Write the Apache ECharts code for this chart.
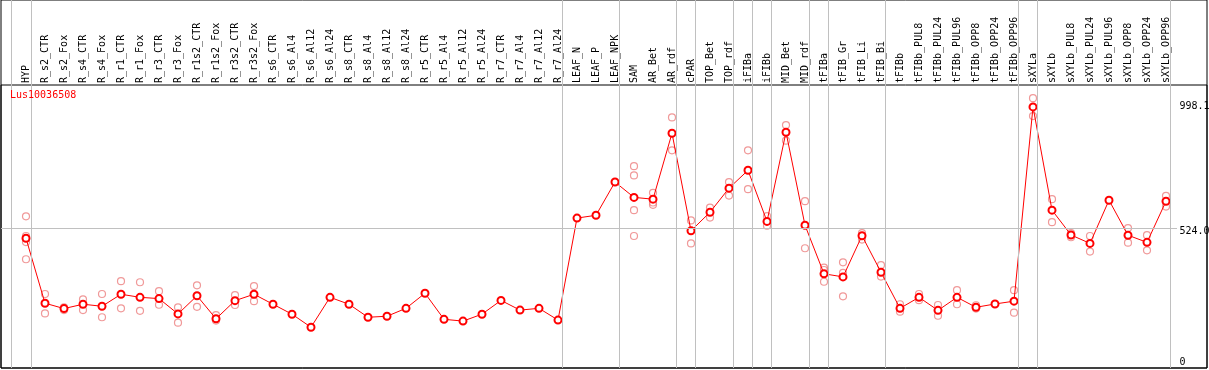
<!DOCTYPE html>
<html>
<head>
<meta charset="utf-8">
<script src="https://cdn.jsdelivr.net/npm/echarts@6/dist/echarts.min.js"></script>
<style>
html,body{margin:0;padding:0;background:#fff;}
#chart{width:1209px;height:370px;}
</style>
</head>
<body>
<div id="chart"></div>
<script>
const geneName = 'Lus10036508';
const categories = ['HYP','R_s2_CTR','R_s2_Fox','R_s4_CTR','R_s4_Fox','R_r1_CTR','R_r1_Fox','R_r3_CTR','R_r3_Fox','R_r1s2_CTR','R_r1s2_Fox','R_r3s2_CTR','R_r3s2_Fox','R_s6_CTR','R_s6_Al4','R_s6_Al12','R_s6_Al24','R_s8_CTR','R_s8_Al4','R_s8_Al12','R_s8_Al24','R_r5_CTR','R_r5_Al4','R_r5_Al12','R_r5_Al24','R_r7_CTR','R_r7_Al4','R_r7_Al12','R_r7_Al24','LEAF_N','LEAF_P','LEAF_NPK','SAM','AR_Bet','AR_rdf','cPAR','TOP_Bet','TOP_rdf','iFIBa','iFIBb','MID_Bet','MID_rdf','tFIBa','tFIB_Gr','tFIB_Li','tFIB_Bi','tFIBb','tFIBb_PUL8','tFIBb_PUL24','tFIBb_PUL96','tFIBb_OPP8','tFIBb_OPP24','tFIBb_OPP96','sXYLa','sXYLb','sXYLb_PUL8','sXYLb_PUL24','sXYLb_PUL96','sXYLb_OPP8','sXYLb_OPP24','sXYLb_OPP96'];
const meanValues = [484,230,209,226,218,265,253,248,188,259,169,240,265,226,187,136,253,226,175,179,210,269,167,160,187,241,203,210,164,563,574,704,644,637,895,513,586,680,750,550,899,535,345,333,494,351,210,253,202,253,214,227,238,998.1,594,497,464,633,496,468,629];
const replicates = [
  [570,493,469,402],[266,190],[214,203],[245,203],[266,175],[316,210],[312,200],[277,224],[214,154],[300,216],[183,162],[262,223],[297,238],
  [],[],[],[],[],[],[],[],[],[],[],[],[],[],[],[],[],[],[],
  [766,730,594,493],[662,624,615],[957,828],[554,464],[604,565],[704,651],[828,676],[571,533],[927,866],[629,445],
  [369,360,314],[390,349,257],[504,479],[379,334],[226,197],[266,242],[223,181],[281,226],[222,209],[],[281,193],
  [1032,962],[637,547],[504,488],[493,432],[],[524,467],[496,437],[650,608]
];
const groupEnds = [0,28,31,34,35,37,38,39,41,42,45,52,53,60];
const yTicks = [0, 524.0, 998.1];
const refLine = 524.0;

// layout constants
const Y_MIN = -23.5, Y_MAX = 1083.7;
const X_MIN = -1.3158, X_MAX = 62.158; // category-index space across the full frame
const FONT = 'DejaVu Sans Mono';

const repData = [];
replicates.forEach((arr, i) => arr.forEach(v => repData.push([i, v])));

const sepLines = [{xAxis: -0.8}].concat(groupEnds.map(i => ({xAxis: i + 0.25})));

const chart = echarts.init(document.getElementById('chart'), null, {renderer: 'canvas'});
chart.setOption({
  animation: false,
  backgroundColor: '#fff',
  title: {
    text: geneName, left: 10, top: 90, padding: 0,
    textStyle: {color: '#ff0000', fontSize: 10, fontWeight: 'normal', fontFamily: FONT}
  },
  grid: [
    {left: 16.5, right: 33.5, top: 85, bottom: 2, show: false, containLabel: false, outerBoundsMode: 'none'},
    {left: 1, right: 2, top: 0, bottom: 2, show: true, borderColor: '#000', borderWidth: 1, backgroundColor: 'transparent', outerBoundsMode: 'none'},
    {left: 1, right: 2, top: 85, bottom: 2, show: true, borderColor: '#000', borderWidth: 1, backgroundColor: 'transparent', outerBoundsMode: 'none'}
  ],
  xAxis: [
    {gridIndex: 0, type: 'category', position: 'top', data: categories, boundaryGap: true,
     axisLine: {show: false}, axisTick: {show: false}, splitLine: {show: false},
     axisLabel: {interval: 0, rotate: 90, margin: 2, fontSize: 10, fontFamily: FONT, color: '#000', hideOverlap: false}},
    {gridIndex: 1, type: 'value', min: X_MIN, max: X_MAX, show: false},
    {gridIndex: 2, type: 'value', min: X_MIN, max: X_MAX, show: false}
  ],
  yAxis: [
    {gridIndex: 0, type: 'value', position: 'right', min: Y_MIN, max: Y_MAX,
     axisLine: {show: false}, axisTick: {show: false}, splitLine: {show: false},
     axisLabel: {customValues: yTicks, margin: 4, fontSize: 10, fontFamily: FONT, color: '#000',
       align: 'left', verticalAlign: 'middle',
       formatter: v => v === 0 ? '0' : (v === refLine ? '{lo|' + v.toFixed(1) + '}' : v.toFixed(1)),
       rich: {lo: {padding: [7, 0, 0, 0], fontSize: 10, fontFamily: FONT, color: '#000'}}}},
    {gridIndex: 1, type: 'value', min: 0, max: 1, show: false},
    {gridIndex: 2, type: 'value', min: Y_MIN, max: Y_MAX, show: false}
  ],
  series: [
    {type: 'line', xAxisIndex: 1, yAxisIndex: 1, data: [], silent: true, z: 0,
     markLine: {silent: true, symbol: ['none','none'], label: {show: false},
       lineStyle: {color: '#c0c0c0', width: 1, type: 'solid'}, emphasis: {disabled: true},
       data: sepLines}},
    {type: 'line', xAxisIndex: 2, yAxisIndex: 2, data: [], silent: true, z: 0,
     markLine: {silent: true, symbol: ['none','none'], label: {show: false},
       lineStyle: {color: '#c0c0c0', width: 1, type: 'solid'}, emphasis: {disabled: true},
       data: [[{coord: [X_MIN, refLine]}, {coord: [60.58, refLine]}]]}},
    {type: 'scatter', xAxisIndex: 0, yAxisIndex: 0, data: repData, z: 3,
     symbol: 'circle', symbolSize: 7,
     itemStyle: {color: 'rgba(255,255,255,0)', borderColor: '#ec8080', borderWidth: 1.2}},
    {type: 'line', xAxisIndex: 0, yAxisIndex: 0, data: meanValues, z: 4,
     symbol: 'emptyCircle', symbolSize: 7, showAllSymbol: true,
     lineStyle: {color: '#ff0000', width: 1},
     itemStyle: {color: '#ff0000', borderColor: '#ff0000', borderWidth: 1.6}}
  ]
});
</script>
</body>
</html>
